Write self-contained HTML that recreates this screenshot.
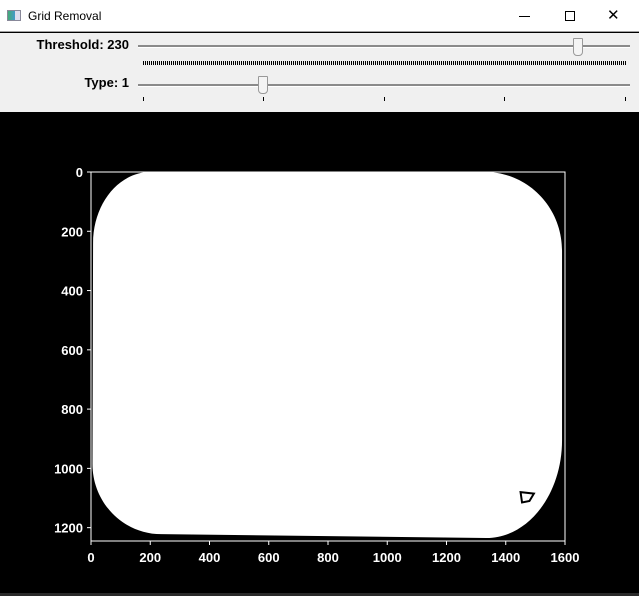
<!DOCTYPE html>
<html><head><meta charset="utf-8"><style>
*{margin:0;padding:0;box-sizing:border-box}
body{width:639px;height:596px;overflow:hidden;background:#000;font-family:"Liberation Sans",sans-serif;position:relative}
.title{position:absolute;left:0;top:0;width:639px;height:32px;background:#fff;border-bottom:1px solid #a0a0a0}
.panel{position:absolute;left:0;top:33px;width:639px;height:80px;background:#f0f0f0;border-bottom:1px solid #000}
.lbl{position:absolute;font-weight:bold;font-size:13px;color:#000;text-align:right}
.track{position:absolute;height:3px;background:#8a8a8a;border-bottom:1px solid #fff}
.thumb{position:absolute;width:10px;height:18px;background:#f4f4f4;border:1px solid #999;border-radius:1px 1px 4px 4px}
</style></head><body>
<div class="title">
  <div style="position:absolute;left:7px;top:10px;width:14px;height:11px;border:1px solid #889;background:linear-gradient(90deg,#4a7 0,#49c 60%,#dde 60%)"></div>
  <div style="position:absolute;left:28px;top:9px;font-size:12px;color:#000">Grid Removal</div>
  <div style="position:absolute;left:519px;top:16px;width:11px;border-top:1px solid #000"></div>
  <div style="position:absolute;left:565px;top:11px;width:10px;height:10px;border:1px solid #000"></div>
  <div style="position:absolute;left:607px;top:6px;font-size:15px;color:#000">✕</div>
</div>
<div class="panel">
  <div class="lbl" style="left:0;width:129px;top:4px">Threshold: 230</div>
  <div class="track" style="left:138px;top:12px;width:492px"></div>
  <div class="thumb" style="left:573px;top:5px"></div>
  <div style="position:absolute;left:143px;top:28px;width:483px;height:4px;background:repeating-linear-gradient(90deg,#000 0 1px,transparent 1px 2px)"></div>
  <div class="lbl" style="left:0;width:129px;top:42px">Type: 1</div>
  <div class="track" style="left:138px;top:51px;width:492px"></div>
  <div class="thumb" style="left:258px;top:43px"></div>
  <div id="tticks"></div>
</div>
<svg id="plot" width="639" height="482" style="position:absolute;left:0;top:114px"></svg>
<div style="position:absolute;left:0;top:593px;width:639px;height:3px;background:#2a2a2a"></div>
<script>
const xTicks=[0,200,400,600,800,1000,1200,1400,1600];
const yTicks=[0,200,400,600,800,1000,1200];
const xMax=1600, yMax=1245;
const X0=91,X1=565,Y0=172-114,Y1=541-114;
const sx=v=>X0+(X1-X0)*v/xMax, sy=v=>Y0+(Y1-Y0)*v/yMax;
const ns="http://www.w3.org/2000/svg", svg=document.getElementById('plot');
function mk(t,a){const e=document.createElementNS(ns,t);for(const k in a)e.setAttribute(k,a[k]);svg.appendChild(e);return e;}
const k=0.552;
function corner(ax,ay,bx,by,cx,cy){ // from a to b, corner point c
  return `C${sx(ax+(cx-ax)*k)},${sy(ay+(cy-ay)*k)} ${sx(bx+(cx-bx)*k)},${sy(by+(cy-by)*k)} ${sx(bx)},${sy(by)} `;
}
const d='M'+sx(200)+','+sy(0)+' L'+sx(1330)+','+sy(0)+' '+
  corner(1330,0,1590,265,1590,0)+
  'L'+sx(1590)+','+sy(905)+' '+
  corner(1590,905,1335,1235,1590,1235)+
  'L'+sx(237)+','+sy(1222)+' '+
  corner(237,1222,5,985,5,1222)+
  'L'+sx(7)+','+sy(240)+' '+
  corner(7,240,200,0,7,0)+'Z';
const blob=mk('path',{fill:'#fff',d:d});


const dm=mk('path',{fill:'none',stroke:'#000','stroke-width':2,d:`M${sx(1450)},${sy(1080)} L${sx(1495)},${sy(1085)} L${sx(1480)},${sy(1110)} L${sx(1455)},${sy(1115)} Z`});


const fr=mk('rect',{x:X0,y:Y0,width:X1-X0,height:Y1-Y0,fill:'none',stroke:'#fff','stroke-width':1});


xTicks.forEach(v=>{
  const l=mk('line',{x1:sx(v),x2:sx(v),y1:Y1,y2:Y1+4,stroke:'#fff'});
  
  
  const t=mk('text',{x:sx(v),y:Y1+21,fill:'#fff','font-size':'13','font-weight':'bold','text-anchor':'middle','font-family':'Liberation Sans, sans-serif'});
  t.textContent=v;
  
  
});
yTicks.forEach(v=>{
  const l=mk('line',{x1:X0-4,x2:X0,y1:sy(v),y2:sy(v),stroke:'#fff'});
  
  
  const t=mk('text',{x:X0-8,y:sy(v)+5,fill:'#fff','font-size':'13','font-weight':'bold','text-anchor':'end','font-family':'Liberation Sans, sans-serif'});
  t.textContent=v;
  
  
});
const tt=document.getElementById('tticks');
[143,263,384,504,625].forEach(x=>{
  const e=document.createElement('div');
  
  
  e.style.cssText=`position:absolute;left:${x}px;top:64px;width:1px;height:4px;background:#000`;
  tt.appendChild(e);
});
</script>
</body></html>
